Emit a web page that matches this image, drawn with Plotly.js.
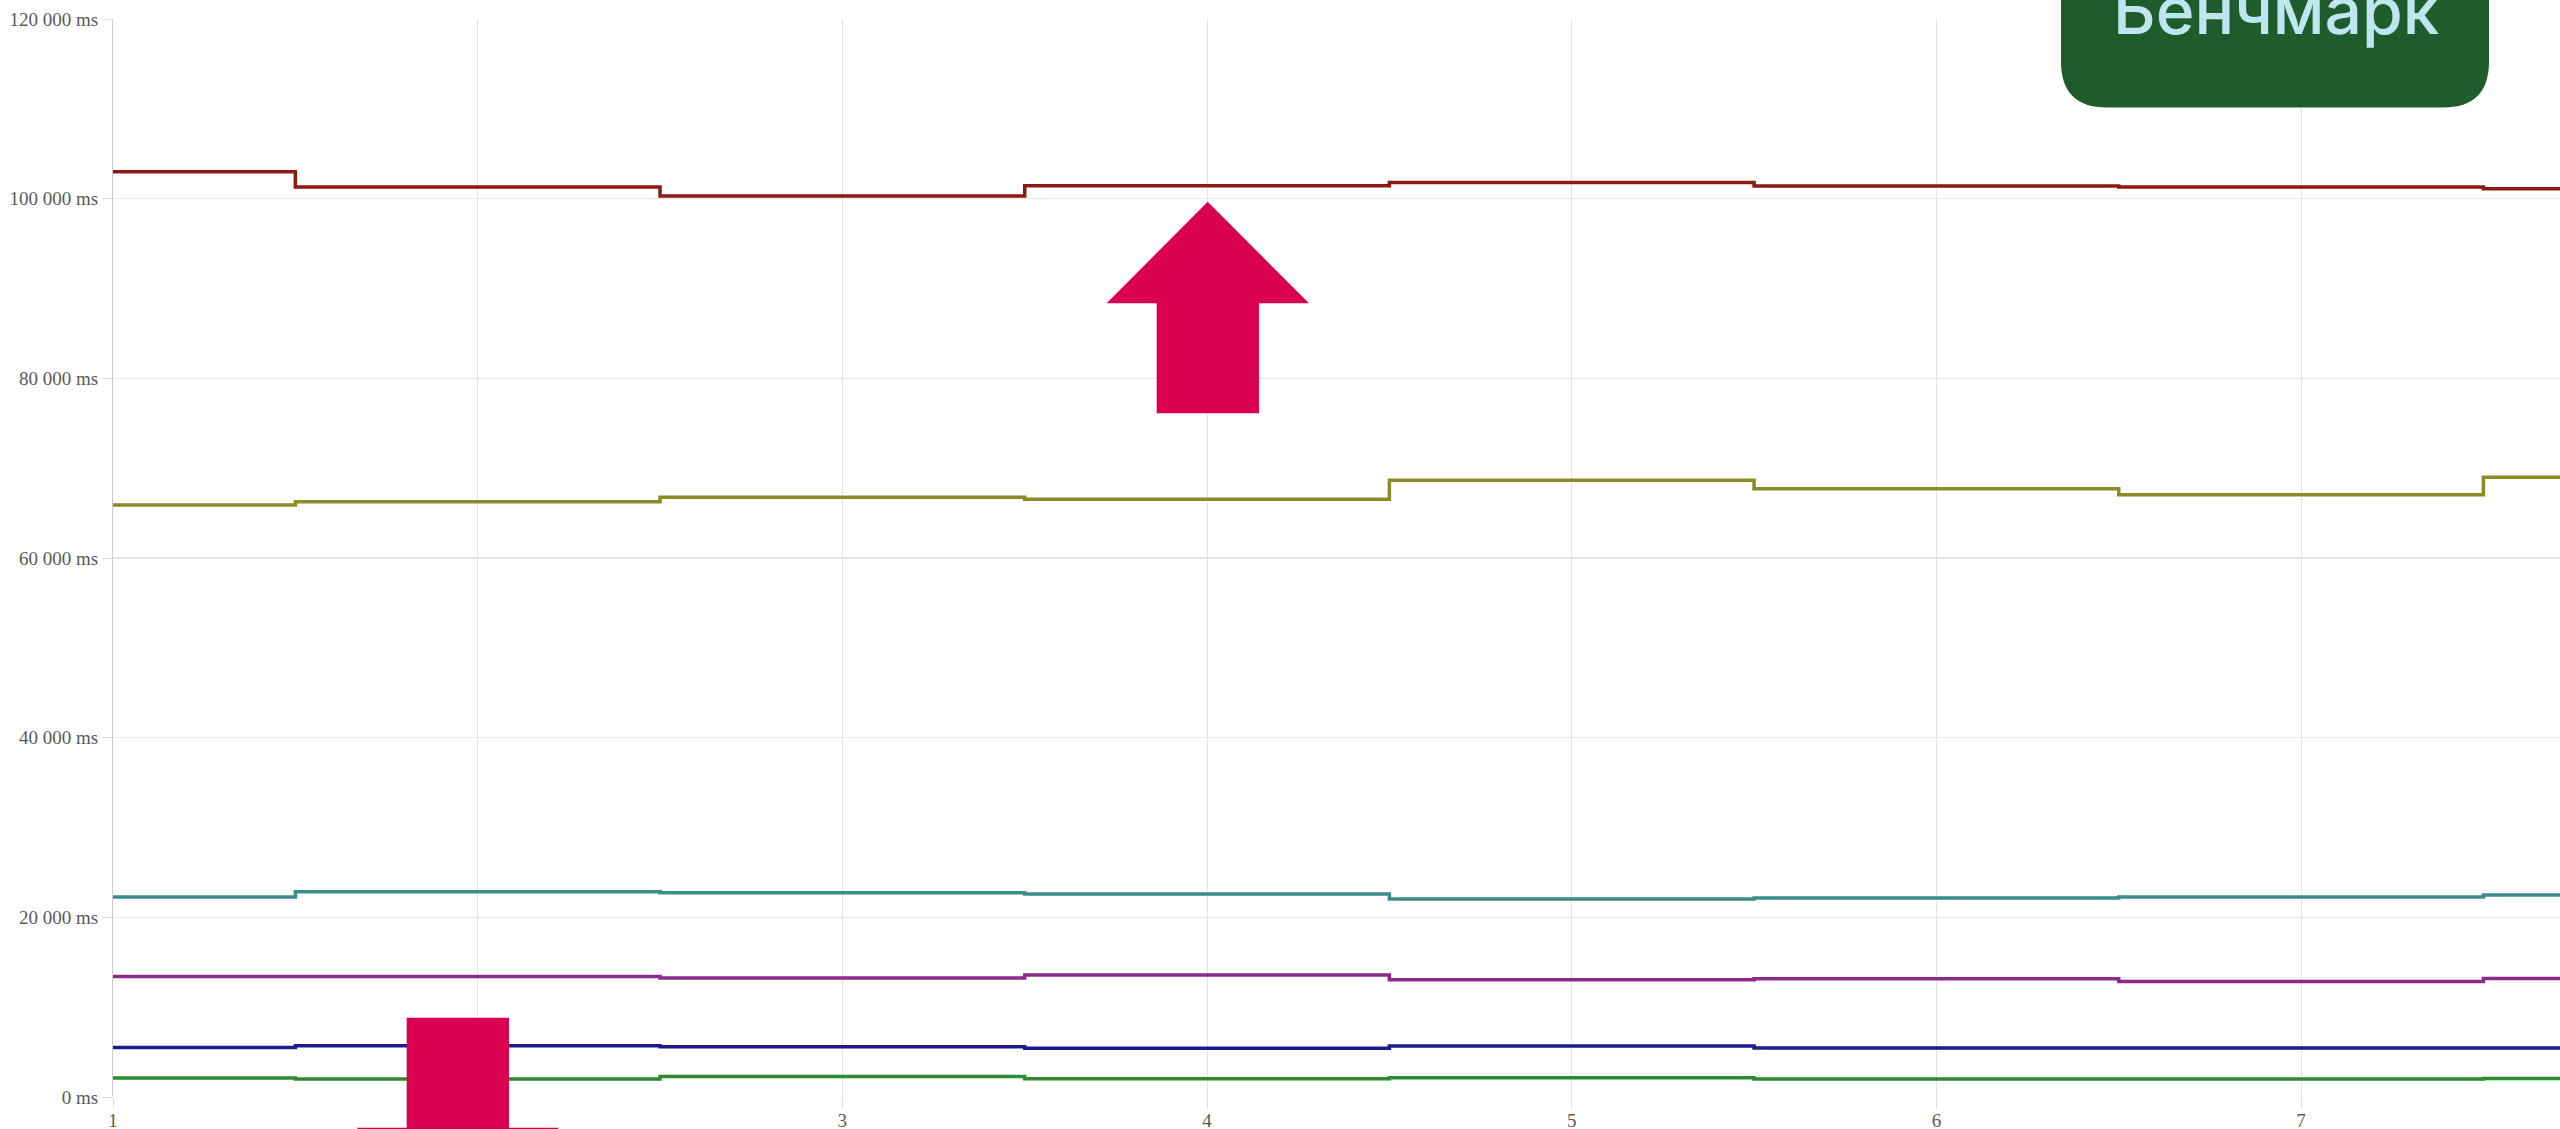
<!DOCTYPE html>
<html>
<head>
<meta charset="utf-8">
<script src="https://cdn.plot.ly/plotly-3.0.1.min.js"></script>
<style>
  html, body { margin: 0; padding: 0; background: #ffffff; overflow: hidden; }
  #chart { width: 2560px; height: 1129px; }
</style>
</head>
<body>
<div id="chart"></div>
<script>
// ---- data ----
const runs = [1, 2, 3, 4, 5, 6, 7, 8];
const seriesRed    = [103000, 101300, 100300, 101450, 101800, 101400, 101300, 101100];
const seriesOlive  = [65900, 66250, 66750, 66550, 68650, 67700, 67050, 69000];
const seriesTeal   = [22250, 22850, 22750, 22600, 22050, 22150, 22250, 22480];
const seriesPurple = [13400, 13420, 13250, 13580, 13050, 13150, 12870, 13200];
const seriesNavy   = [5520, 5700, 5600, 5420, 5680, 5450, 5450, 5450];
const seriesGreen  = [2110, 2000, 2290, 2040, 2150, 2000, 2000, 2070];

const yTickVals = [0, 20000, 40000, 60000, 80000, 100000, 120000];
const yTickText = ["0 ms", "20 000 ms", "40 000 ms", "60 000 ms", "80 000 ms", "100 000 ms", "120 000 ms"];
const xTickVals = [1, 2, 3, 4, 5, 6, 7];
const xTickText = ["1", "2", "3", "4", "5", "6", "7"];
const badgeText = "Бенчмарк";

// ---- layout geometry (pixels) ----
const W = 2560, H = 1129;
const mL = 113, mT = 19, mB = 32, mR = 0;
const plotW = W - mL - mR, plotH = H - mT - mB;
const px = x => (x - mL) / plotW;
const py = y => (H - mB - y) / plotH;

function stepTrace(y, color) {
  return {
    x: runs, y: y, type: 'scatter', mode: 'lines',
    line: { shape: 'hvh', color: color, width: 3.5 },
    hoverinfo: 'skip', showlegend: false
  };
}

const traces = [
  stepTrace(seriesRed, '#8b1a14'),
  stepTrace(seriesOlive, '#8b8b28'),
  stepTrace(seriesTeal, '#3d8c8c'),
  stepTrace(seriesPurple, '#8b2b8b'),
  stepTrace(seriesNavy, '#1b1b8b'),
  stepTrace(seriesGreen, '#2e8b2e')
];

function pathFrom(points) {
  return points.map((p, i) => (i === 0 ? 'M' : 'L') + px(p[0]).toFixed(5) + ',' + py(p[1]).toFixed(5)).join(' ') + ' Z';
}

// up arrow
const upArrow = pathFrom([
  [1207.7, 201.7], [1309, 303.3], [1259, 303.3], [1259, 413.3],
  [1156.7, 413.3], [1156.7, 303.3], [1106.7, 303.3]
]);
// down arrow (partly below page)
const downArrow = pathFrom([
  [406.7, 1017.7], [509, 1017.7], [509, 1127.7], [559, 1127.7],
  [457.9, 1229.3], [356.7, 1127.7], [406.7, 1127.7]
]);
// rounded badge
const bx0 = 2061, bx1 = 2489, by0 = -80, by1 = 107.5, br = 46;
const badge = 'M' + px(bx0) + ',' + py(by0) +
  ' L' + px(bx1) + ',' + py(by0) +
  ' L' + px(bx1) + ',' + py(by1 - br) +
  ' Q' + px(bx1) + ',' + py(by1) + ' ' + px(bx1 - br) + ',' + py(by1) +
  ' L' + px(bx0 + br) + ',' + py(by1) +
  ' Q' + px(bx0) + ',' + py(by1) + ' ' + px(bx0) + ',' + py(by1 - br) + ' Z';

const tickFont = { family: 'Liberation Serif, Times New Roman, serif', size: 19, color: '#5a5a5a' };

const layout = {
  width: W, height: H,
  margin: { l: mL, r: mR, t: mT, b: mB, pad: 0 },
  paper_bgcolor: '#ffffff', plot_bgcolor: '#ffffff',
  showlegend: false,
  xaxis: {
    range: [1, 7.71], tickvals: xTickVals, ticktext: xTickText,
    showgrid: true, gridcolor: '#e4e4e4', gridwidth: 1,
    zeroline: false, showline: false,
    ticks: 'outside', ticklen: 10, tickcolor: '#dddddd', tickwidth: 1,
    ticklabelstandoff: -4,
    tickfont: tickFont, fixedrange: true
  },
  yaxis: {
    range: [0, 120000], tickvals: yTickVals, ticktext: yTickText,
    showgrid: true, gridcolor: '#e6e6e6', gridwidth: 1.2,
    zeroline: false, showline: true, linecolor: '#cccccc', linewidth: 1,
    ticks: 'outside', ticklen: 10, tickcolor: '#dddddd', tickwidth: 1,
    tickfont: tickFont, fixedrange: true
  },
  shapes: [
    { type: 'path', xref: 'paper', yref: 'paper', path: upArrow, fillcolor: '#d9004f', line: { width: 0 }, layer: 'above' },
    { type: 'path', xref: 'paper', yref: 'paper', path: downArrow, fillcolor: '#d9004f', line: { width: 0 }, layer: 'above' },
    { type: 'path', xref: 'paper', yref: 'paper', path: badge, fillcolor: '#1f5c2b', line: { width: 0 }, layer: 'above' }
  ],
  annotations: [
    {
      xref: 'paper', yref: 'paper', x: px(2276), y: py(52),
      xanchor: 'center', yanchor: 'bottom', showarrow: false,
      text: badgeText,
      font: { family: 'Inter, Noto Sans, sans-serif', size: 66, weight: 500, color: '#bee6f0' }
    }
  ]
};

Plotly.newPlot('chart', traces, layout, { displayModeBar: false, staticPlot: true });
</script>
</body>
</html>
